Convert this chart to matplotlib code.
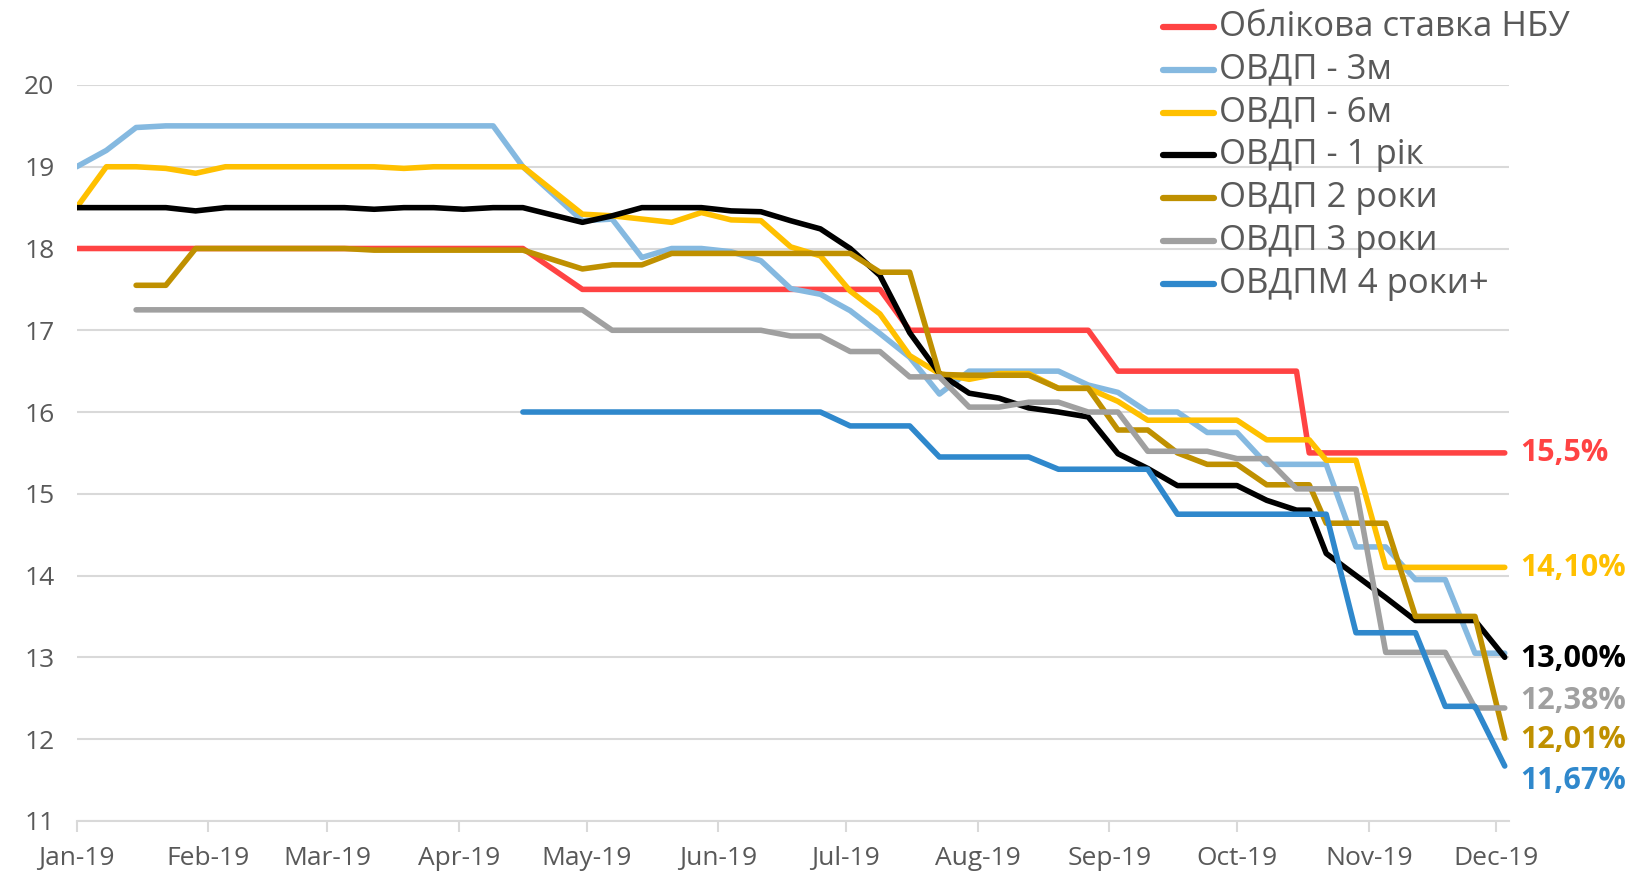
import numpy as np
import pandas as pd
import matplotlib
matplotlib.use('Agg')
import matplotlib.pyplot as plt
import matplotlib.dates as mdates
from matplotlib.lines import Line2D

plt.rcParams.update({'font.family': ['Open Sans', 'DejaVu Sans']})

nan = np.nan

# auction dates (weekly, Apr-23 missing, extra point on Oct-18)
dates = pd.to_datetime([
    '2019-01-01', '2019-01-08', '2019-01-15', '2019-01-22', '2019-01-29',
    '2019-02-05', '2019-02-12', '2019-02-19', '2019-02-26',
    '2019-03-05', '2019-03-12', '2019-03-19', '2019-03-26',
    '2019-04-02', '2019-04-09', '2019-04-16', '2019-04-30',
    '2019-05-07', '2019-05-14', '2019-05-21', '2019-05-28',
    '2019-06-04', '2019-06-11', '2019-06-18', '2019-06-25',
    '2019-07-02', '2019-07-09', '2019-07-16', '2019-07-23', '2019-07-30',
    '2019-08-06', '2019-08-13', '2019-08-20', '2019-08-27',
    '2019-09-03', '2019-09-10', '2019-09-17', '2019-09-24',
    '2019-10-01', '2019-10-08', '2019-10-15', '2019-10-18', '2019-10-22', '2019-10-29',
    '2019-11-05', '2019-11-12', '2019-11-19', '2019-11-26', '2019-12-03',
])

nbu_rate = [
    18.0, 18.0, 18.0, 18.0, 18.0, 18.0, 18.0, 18.0, 18.0, 18.0, 18.0, 18.0, 18.0, 18.0, 18.0, 18.0,
    17.5, 17.5, 17.5, 17.5, 17.5, 17.5, 17.5, 17.5, 17.5, 17.5, 17.5,
    17.0, 17.0, 17.0, 17.0, 17.0, 17.0, 17.0,
    16.5, 16.5, 16.5, 16.5, 16.5, 16.5, 16.5,
    15.5,
    15.5, 15.5, 15.5, 15.5, 15.5, 15.5, 15.5,
]
ovdp_3m = [
    19.0, 19.2, 19.48, 19.5, 19.5, 19.5, 19.5, 19.5, 19.5, 19.5, 19.5, 19.5, 19.5, 19.5, 19.5, 19.0,
    18.34, 18.36, 17.89, 18.0, 18.0, 17.96, 17.85, 17.51, 17.44, 17.24, 16.96, 16.67, 16.22,
    16.5, 16.5, 16.5, 16.5, 16.33, 16.24, 16.0, 16.0, 15.75, 15.75, 15.36, 15.36,
    15.36,
    15.36, 14.35, 14.35, 13.95, 13.95, 13.05, 13.05,
]
ovdp_6m = [
    18.5, 19.0, 19.0, 18.98, 18.92, 19.0, 19.0, 19.0, 19.0, 19.0, 19.0, 18.98, 19.0, 19.0, 19.0, 19.0,
    18.42, 18.40, 18.36, 18.32, 18.44, 18.35, 18.34, 18.02, 17.91, 17.48, 17.2, 16.69, 16.47,
    16.40, 16.47, 16.47, 16.29, 16.29, 16.13, 15.9, 15.9, 15.9, 15.9, 15.66, 15.66,
    15.66,
    15.41, 15.41, 14.1, 14.1, 14.1, 14.1, 14.1,
]
ovdp_1y = [
    18.5, 18.5, 18.5, 18.5, 18.46, 18.5, 18.5, 18.5, 18.5, 18.5, 18.48, 18.5, 18.5, 18.48, 18.5, 18.5,
    18.32, 18.40, 18.5, 18.5, 18.5, 18.46, 18.45, 18.34, 18.24, 18.0, 17.67, 16.97, 16.47,
    16.23, 16.17, 16.05, 16.0, 15.94, 15.49, 15.31, 15.1, 15.1, 15.1, 14.92, 14.8,
    14.8,
    14.27, 14.0, 13.73, 13.45, 13.45, 13.45, 13.0,
]
ovdp_2y = [
    nan, nan, 17.55, 17.55, 18.0, 18.0, 18.0, 18.0, 18.0, 18.0, 17.98, 17.98, 17.98, 17.98, 17.98, 17.98,
    17.75, 17.8, 17.8, 17.94, 17.94, 17.94, 17.94, 17.94, 17.94, 17.94, 17.71, 17.71, 16.46,
    16.45, 16.45, 16.45, 16.29, 16.29, 15.78, 15.78, 15.5, 15.36, 15.36, 15.11, 15.11,
    15.11,
    14.64, 14.64, 14.64, 13.5, 13.5, 13.5, 12.01,
]
ovdp_3y = [
    nan, nan, 17.25, 17.25, 17.25, 17.25, 17.25, 17.25, 17.25, 17.25, 17.25, 17.25, 17.25, 17.25, 17.25, 17.25,
    17.25, 17.0, 17.0, 17.0, 17.0, 17.0, 17.0, 16.93, 16.93, 16.74, 16.74, 16.43, 16.43,
    16.06, 16.06, 16.12, 16.12, 16.0, 16.0, 15.52, 15.52, 15.52, 15.43, 15.43, 15.06,
    15.06,
    15.06, 15.06, 13.06, 13.06, 13.06, 12.38, 12.38,
]
ovdpm_4y = [
    nan, nan, nan, nan, nan, nan, nan, nan, nan, nan, nan, nan, nan, nan, nan, 16.0,
    16.0, 16.0, 16.0, 16.0, 16.0, 16.0, 16.0, 16.0, 16.0, 15.83, 15.83, 15.83, 15.45,
    15.45, 15.45, 15.45, 15.3, 15.3, 15.3, 15.3, 14.75, 14.75, 14.75, 14.75, 14.75,
    14.75,
    14.75, 13.3, 13.3, 13.3, 12.4, 12.4, 11.67,
]

names = ['Облікова ставка НБУ', 'ОВДП - 3м', 'ОВДП - 6м', 'ОВДП - 1 рік',
         'ОВДП 2 роки', 'ОВДП 3 роки', 'ОВДПМ 4 роки+']
series = [nbu_rate, ovdp_3m, ovdp_6m, ovdp_1y, ovdp_2y, ovdp_3y, ovdpm_4y]
colors = ['#FF4343', '#85B9E0', '#FFC000', '#000000', '#BF9000', '#A0A0A0', '#2F88CC']

# end-of-line labels (which series, text, vertical position in data units)
end_idx = [0, 2, 3, 5, 4, 6]
end_text = ['15,5%', '14,10%', '13,00%', '12,38%', '12,01%', '11,67%']
end_y = [15.5, 14.09, 12.98, 12.46, 11.99, 11.49]

W, H = 1645, 871
fig = plt.figure(figsize=(W / 100, H / 100), dpi=100)
ax = fig.add_axes([76.6 / W, 1 - 820.8 / H, (1509 - 76.6) / W, (820.8 - 85) / H])

for vals, c in zip(series, colors):
    ax.plot(dates, vals, color=c, lw=4.0, solid_capstyle='round', zorder=3)

ax.set_ylim(11, 20)
ax.set_yticks(range(11, 21))
ax.set_xlim(pd.Timestamp('2019-01-01'), pd.Timestamp('2019-12-04'))
ax.xaxis.set_major_locator(mdates.MonthLocator())
ax.xaxis.set_major_formatter(mdates.DateFormatter('%b-%y'))

grid_c = '#D9D9D9'
ax.yaxis.grid(True, color=grid_c, lw=1.5, zorder=0)
for s in ['top', 'right', 'left']:
    ax.spines[s].set_visible(False)
ax.spines['bottom'].set_color(grid_c)
ax.spines['bottom'].set_linewidth(1.5)
ax.tick_params(axis='y', length=0, pad=16, labelsize=19, labelcolor='#595959')
ax.tick_params(axis='x', length=8, width=1.5, color=grid_c, pad=10,
               labelsize=19, labelcolor='#595959')

for i, txt, yv in zip(end_idx, end_text, end_y):
    ax.annotate(txt, xy=(1, yv), xycoords=('axes fraction', 'data'),
                xytext=(11, 0), textcoords='offset pixels',
                ha='left', va='center', fontsize=22, fontweight='bold',
                color=colors[i])

# legend drawn by hand to match row spacing
for k, (nm, c) in enumerate(zip(names, colors)):
    yf = 1 - (27 + k * 42.8) / H
    fig.add_artist(Line2D([1163 / W, 1214 / W], [yf, yf], color=c, lw=4.5,
                          solid_capstyle='round', transform=fig.transFigure))
    fig.text(1219 / W, yf, nm, ha='left', va='center', fontsize=25, color='#595959')

fig.savefig('out.png', dpi=100)
